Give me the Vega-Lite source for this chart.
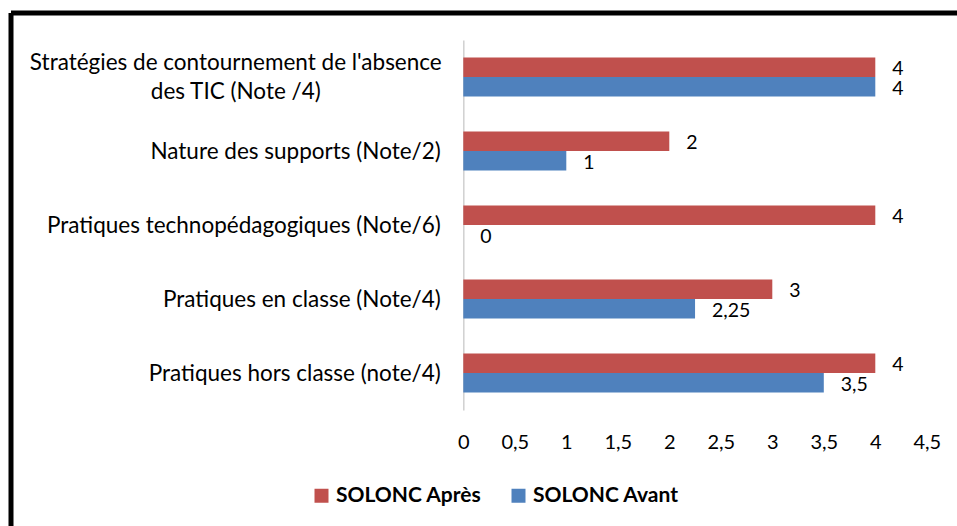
{
  "$schema": "https://vega.github.io/schema/vega-lite/v6.json",
  "autosize": "none",
  "padding": {"left": 11, "top": 13, "right": 0, "bottom": 0},
  "width": 946,
  "height": 513,
  "background": "white",
  "data": {
    "values": [
      {"cat": "Stratégies de contournement de l'absence des TIC (Note /4)", "serie": "SOLONC Après", "note": 4},
      {"cat": "Stratégies de contournement de l'absence des TIC (Note /4)", "serie": "SOLONC Avant", "note": 4},
      {"cat": "Nature des supports (Note/2)", "serie": "SOLONC Après", "note": 2},
      {"cat": "Nature des supports (Note/2)", "serie": "SOLONC Avant", "note": 1},
      {"cat": "Pratiques technopédagogiques (Note/6)", "serie": "SOLONC Après", "note": 4},
      {"cat": "Pratiques technopédagogiques (Note/6)", "serie": "SOLONC Avant", "note": 0},
      {"cat": "Pratiques en classe (Note/4)", "serie": "SOLONC Après", "note": 3},
      {"cat": "Pratiques en classe (Note/4)", "serie": "SOLONC Avant", "note": 2.25},
      {"cat": "Pratiques hors classe (note/4)", "serie": "SOLONC Après", "note": 4},
      {"cat": "Pratiques hors classe (note/4)", "serie": "SOLONC Avant", "note": 3.5}
    ]
  },
  "encoding": {
    "y": {
      "field": "cat",
      "type": "nominal",
      "sort": null,
      "title": null,
      "scale": {"range": [27, 397], "paddingInner": 0.473, "paddingOuter": 0.2365},
      "axis": {
        "offset": -452.3,
        "ticks": false,
        "tickSize": 0,
        "domainColor": "#D0D0D0",
        "domainWidth": 1.5,
        "labelFont": "Lato",
        "labelFontSize": 22.5,
        "labelColor": "#000000",
        "labelLimit": 600,
        "labelLineHeight": 29,
        "labelBaseline": "middle",
        "labelExpr": "indexof(datum.value, 'Strat') == 0 ? [\"Stratégies de contournement de l'absence\", 'des TIC (Note /4)'] : datum.label",
        "labelAlign": {"condition": {"test": "indexof(datum.value, 'Strat') == 0", "value": "center"}, "value": "right"},
        "labelPadding": {"condition": {"test": "indexof(datum.value, 'Strat') == 0", "value": 228}, "value": 23},
        "labelOffset": {"condition": {"test": "indexof(datum.value, 'Strat') == 0", "value": -14}, "value": 1}
      }
    },
    "yOffset": {
      "field": "serie",
      "type": "nominal",
      "sort": ["SOLONC Après", "SOLONC Avant"],
      "scale": {"paddingInner": 0, "paddingOuter": 0}
    },
    "x": {
      "field": "note",
      "type": "quantitative",
      "title": null,
      "scale": {"domain": [0, 4.5], "range": [452.3, 915.8], "nice": false, "zero": true},
      "axis": {
        "offset": -116,
        "domain": false,
        "ticks": false,
        "tickSize": 0,
        "grid": false,
        "values": [0, 0.5, 1, 1.5, 2, 2.5, 3, 3.5, 4, 4.5],
        "format": "~g",
        "labelFont": "Lato",
        "labelFontSize": 20,
        "labelColor": "#000000",
        "labelBaseline": "middle",
        "labelPadding": 32,
        "labelFlush": false,
        "labelOverlap": false
      }
    }
  },
  "layer": [
    {
      "mark": {"type": "bar"},
      "encoding": {
        "color": {
          "field": "serie",
          "type": "nominal",
          "title": null,
          "scale": {"domain": ["SOLONC Après", "SOLONC Avant"], "range": ["#C0504D", "#4F81BD"]},
          "legend": {
            "orient": "none",
            "legendX": 300,
            "legendY": 472,
            "direction": "horizontal",
            "padding": 0,
            "columnPadding": 26,
            "labelOffset": 4,
            "symbolType": "square",
            "symbolSize": 196,
            "symbolStrokeWidth": 0,
            "labelFont": "Lato",
            "labelFontSize": 21,
            "labelFontWeight": "bold",
            "labelColor": "#000000",
            "labelLimit": 400
          }
        }
      }
    },
    {
      "mark": {"type": "text", "align": "left", "baseline": "middle", "dx": 17, "dy": 2, "font": "Lato", "fontSize": 19.5, "color": "#000000"},
      "encoding": {
        "text": {"field": "note", "type": "quantitative", "format": ".3~g"}
      }
    }
  ],
  "config": {
    "locale": {"number": {"decimal": ",", "thousands": " ", "grouping": [3], "currency": ["", " €"]}},
    "view": {"stroke": "#000000", "strokeWidth": 5, "strokeDash": [946, 1459, 513, 0], "fill": "white"}
  }
}
